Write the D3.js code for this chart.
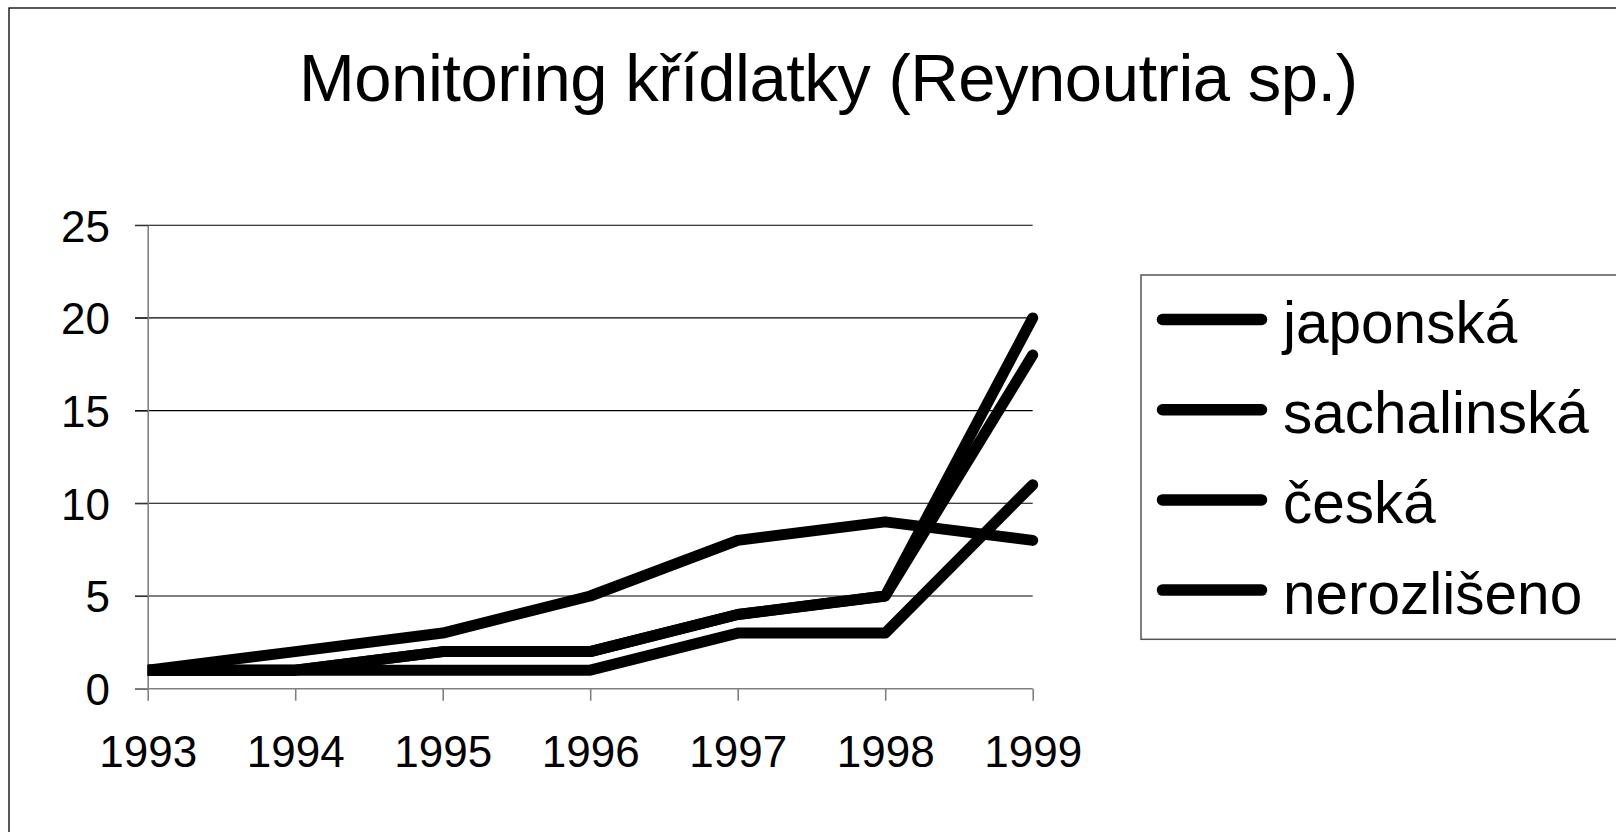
<!DOCTYPE html>
<html>
<head>
<meta charset="utf-8">
<script src="https://cdn.jsdelivr.net/npm/d3@7"></script>
<style>
  html, body { margin: 0; padding: 0; background: #fff; }
  svg { display: block; font-family: "Liberation Sans", Arial, sans-serif; }
</style>
</head>
<body>
<div id="chart"></div>
<script>
// data
const years = [1993, 1994, 1995, 1996, 1997, 1998, 1999];
const japonska = [1, 1, 2, 2, 4, 5, 20];
const sachalinska = [1, 1, 2, 2, 4, 5, 18];
const ceska = [1, 1, 1, 1, 3, 3, 11];
const nerozliseno = [1, 2, 3, 5, 8, 9, 8];
const seriesNames = ["japonská", "sachalinská", "česká", "nerozlišeno"];
const yTickValues = [0, 5, 10, 15, 20, 25];
const title = "Monitoring křídlatky (Reynoutria sp.)";

const W = 1616, H = 832;
const plotLeft = 147.7, plotRight = 1032.7, plotTop = 225.2, plotBottom = 688.7;

const svg = d3.select("#chart")
  .append("svg")
  .attr("width", W)
  .attr("height", H);

svg.append("rect").attr("width", W).attr("height", H).attr("fill", "#fff");

// outer chart frame (runs off the right and bottom edges)
svg.append("rect")
  .attr("x", 9).attr("y", 8)
  .attr("width", 1800).attr("height", 1000)
  .attr("fill", "none")
  .attr("stroke", "#000")
  .attr("stroke-width", 1.3);

svg.append("text")
  .attr("x", 828.5)
  .attr("y", 100.7)
  .attr("text-anchor", "middle")
  .attr("font-size", 67)
  .attr("textLength", 1059)
  .attr("lengthAdjust", "spacing")
  .text(title);

const x = d3.scalePoint().domain(years).range([plotLeft, plotRight]);
const y = d3.scaleLinear().domain([0, 25]).range([plotBottom, plotTop]);

// gridlines
svg.append("g")
  .selectAll("line")
  .data(yTickValues.filter(d => d > 0))
  .enter()
  .append("line")
  .attr("x1", plotLeft - 12.7)
  .attr("x2", plotRight)
  .attr("y1", d => y(d))
  .attr("y2", d => y(d))
  .attr("stroke", "#000")
  .attr("stroke-width", 1.1);

// y axis
const yAxis = svg.append("g")
  .attr("transform", `translate(${plotLeft},0)`)
  .call(d3.axisLeft(y).tickValues(yTickValues).tickSizeInner(12.7).tickSizeOuter(0).tickPadding(25));
yAxis.select(".domain").attr("stroke", "#808080").attr("stroke-width", 1.6);
yAxis.selectAll(".tick line").attr("stroke", "#333").attr("stroke-width", 1.1);
yAxis.selectAll(".tick text")
  .attr("font-family", "Liberation Sans, Arial, sans-serif")
  .attr("font-size", 44)
  .attr("fill", "#000")
  .attr("dy", "0.36em");

// x axis
const xAxis = svg.append("g")
  .attr("transform", `translate(0,${plotBottom})`)
  .call(d3.axisBottom(x).tickSizeInner(12).tickSizeOuter(0).tickPadding(35));
xAxis.select(".domain").remove();
xAxis.append("line")
  .attr("x1", plotLeft - 12.7).attr("x2", plotRight)
  .attr("stroke", "#808080").attr("stroke-width", 1.6);
xAxis.selectAll(".tick line").attr("stroke", "#808080").attr("stroke-width", 1.6);
xAxis.selectAll(".tick text")
  .attr("font-family", "Liberation Sans, Arial, sans-serif")
  .attr("font-size", 44)
  .attr("fill", "#000")
  .attr("dy", null)
  .attr("y", 767 - plotBottom);

// lines
svg.append("clipPath").attr("id", "plotclip")
  .append("rect").attr("x", plotLeft).attr("y", 0).attr("width", 1000).attr("height", H);

const series = [japonska, sachalinska, ceska, nerozliseno].map((vals, i) => ({
  name: seriesNames[i],
  values: vals.map((v, j) => ({ year: years[j], v }))
}));

const line = d3.line().x(d => x(d.year)).y(d => y(d.v));

svg.append("g")
  .attr("clip-path", "url(#plotclip)")
  .selectAll("path")
  .data(series)
  .enter()
  .append("path")
  .attr("d", s => line(s.values))
  .attr("fill", "none")
  .attr("stroke", "#000")
  .attr("stroke-width", 11)
  .attr("stroke-linejoin", "round")
  .attr("stroke-linecap", "round");

// legend
const legend = svg.append("g");
legend.append("rect")
  .attr("x", 1141).attr("y", 275)
  .attr("width", 600).attr("height", 364.3)
  .attr("fill", "#fff")
  .attr("stroke", "#555")
  .attr("stroke-width", 1.5);

const rows = legend.selectAll("g.row")
  .data(series)
  .enter()
  .append("g")
  .attr("class", "row")
  .attr("transform", (d, i) => `translate(0,${319.5 + i * 90.2})`);

rows.append("line")
  .attr("x1", 1162.5).attr("x2", 1261.5)
  .attr("stroke", "#000")
  .attr("stroke-width", 11.5)
  .attr("stroke-linecap", "round");

rows.append("text")
  .attr("x", 1283)
  .attr("y", 23.5)
  .attr("font-size", 58.5)
  .attr("fill", "#000")
  .text(d => d.name);
</script>
</body>
</html>
